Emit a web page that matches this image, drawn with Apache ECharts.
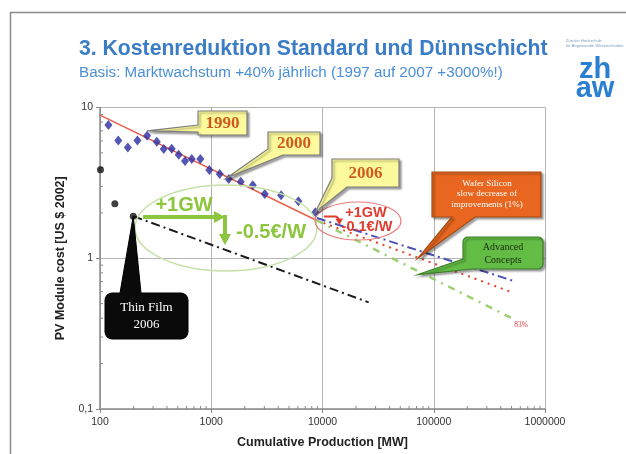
<!DOCTYPE html>
<html><head><meta charset="utf-8">
<script src="https://cdn.jsdelivr.net/npm/echarts@6/dist/echarts.min.js"></script>
<style>html,body{margin:0;padding:0;background:#fff}#c{width:626px;height:454px}</style>
</head><body><div id="c"></div>
<script>
// ---- data ----
const xTickValues = [100, 1000, 10000, 100000, 1000000];
const yTickValues = [0.1, 1, 10];
const yTickLabels = ['0,1', '1', '10'];

// historical module cost (blue diamonds)
const historyX = [119, 146, 178, 217, 265, 324, 374, 441, 510, 581, 668, 798, 961, 1192, 1437, 1842, 2362, 3028, 4244, 6072, 8632];
const historyY = [7.66, 6.04, 5.43, 6.04, 6.49, 5.92, 5.30, 5.32, 4.86, 4.41, 4.55, 4.55, 3.85, 3.62, 3.36, 3.22, 3.05, 2.67, 2.62, 2.39, 2.02];

// thin film points (black dots)
const thinFilmX = [101, 136, 199];
const thinFilmY = [3.87, 2.30, 1.90];

// experience curve and forecasts
const experienceX = [100, 8900];
const experienceY = [8.9, 1.78];
const waferDottedX = [8900, 510000];
const waferDottedY = [1.78, 0.593];
const waferSlowX = [8900, 520000];
const waferSlowY = [1.85, 0.708];
const advancedX = [8900, 518000];
const advancedY = [1.78, 0.396];
const thinTrendX = [200, 26000];
const thinTrendY = [1.9, 0.51];

// annotation anchors (data space)
const waferTipAt = [72000, 1.0];
const advancedTipAt = [72000, 0.78];

const zip = (xs, ys) => xs.map((x, i) => [x, ys[i]]);

// minor tick positions (axis decoration)
const minorMult = [2, 3, 4, 5, 6, 7, 8, 9];
const xMinor = [];
[100, 1000, 10000, 100000].forEach(d => minorMult.forEach(m => xMinor.push([d * m, 0.1])));
const yMinor = [];
[0.1, 1].forEach(d => minorMult.forEach(m => yMinor.push([100, d * m])));

const SANS = '"Liberation Sans", Arial, sans-serif';
const SERIF = '"Liberation Serif", "Times New Roman", serif';
const AX = '#8a8a8a';

const chart = echarts.init(document.getElementById('c'));

function lineSeries(xs, ys, color, width, dash) {
  return {
    type: 'line', data: zip(xs, ys), symbol: 'none', silent: true, z: 3,
    lineStyle: { color: color, width: width, type: dash || 'solid' }
  };
}

chart.setOption({
  animation: false,
  backgroundColor: '#ffffff',
  grid: { left: 100, top: 107.5, width: 445, height: 303.5 },
  xAxis: {
    type: 'log', logBase: 10, min: 100, max: 1000000,
    name: 'Cumulative Production [MW]', nameLocation: 'middle', nameGap: 27,
    nameTextStyle: { fontFamily: SANS, fontWeight: 'bold', fontSize: 12.5, color: '#222' },
    axisLine: { lineStyle: { color: AX, width: 1.5 } },
    axisTick: { show: true, length: 4, lineStyle: { color: AX } },
    axisLabel: { fontFamily: SANS, fontSize: 10.5, color: '#333', margin: 8,
      formatter: v => { const i = xTickValues.findIndex(t => Math.abs(t - v) / t < 1e-6); return i >= 0 ? String(xTickValues[i]) : ''; } },
    splitLine: { show: true, lineStyle: { color: '#b4b4b4', width: 1 } }
  },
  yAxis: {
    type: 'log', logBase: 10, min: 0.1, max: 10,
    name: 'PV Module cost [US $ 2002]', nameLocation: 'middle', nameGap: 30,
    nameTextStyle: { fontFamily: SANS, fontWeight: 'bold', fontSize: 12.5, color: '#222' },
    axisLine: { lineStyle: { color: AX, width: 1.5 } },
    axisTick: { show: true, length: 4, lineStyle: { color: AX } },
    axisLabel: { fontFamily: SANS, fontSize: 10.5, color: '#333', margin: 7,
      formatter: v => { const i = yTickValues.findIndex(t => Math.abs(t - v) / t < 1e-6); return i >= 0 ? yTickLabels[i] : ''; } },
    splitLine: { show: true, lineStyle: { color: '#b4b4b4', width: 1 } }
  },
  series: [
    { type: 'custom', data: xMinor, silent: true, z: 2,
      renderItem: (p, api) => { const c = api.coord([api.value(0), api.value(1)]);
        return { type: 'line', shape: { x1: c[0], y1: c[1], x2: c[0], y2: c[1] - 3 }, style: { stroke: AX, lineWidth: 1 } }; } },
    { type: 'custom', data: yMinor, silent: true, z: 2,
      renderItem: (p, api) => { const c = api.coord([api.value(0), api.value(1)]);
        return { type: 'line', shape: { x1: c[0], y1: c[1], x2: c[0] + 3, y2: c[1] }, style: { stroke: AX, lineWidth: 1 } }; } },
    lineSeries(experienceX, experienceY, '#e8604a', 1.5),
    lineSeries(waferDottedX, waferDottedY, '#e8402a', 2, [2, 5]),
    lineSeries(waferSlowX, waferSlowY, '#4b4fb5', 2, [9, 4, 2, 4]),
    lineSeries(advancedX, advancedY, '#9bd070', 2.5, [7, 6, 2, 6]),
    lineSeries(thinTrendX, thinTrendY, '#1a1a1a', 2, [9, 4, 2, 4]),
    { type: 'scatter', data: zip(historyX, historyY), symbol: 'diamond', symbolSize: [8, 10],
      itemStyle: { color: '#2b2ba0' }, z: 5 },
    { type: 'scatter', data: zip(thinFilmX, thinFilmY), symbol: 'circle', symbolSize: 7,
      itemStyle: { color: '#111' }, z: 5 }
  ]
});

// ---- annotations ----
const px = (x, y) => chart.convertToPixel({ gridIndex: 0 }, [x, y]);
function arc(cx, cy, r, a0, a1) {
  const pts = []; const n = r > 0 ? 4 : 0;
  for (let i = 0; i <= n; i++) { const a = (a0 + (a1 - a0) * i / Math.max(n, 1)) * Math.PI / 180; pts.push([cx + r * Math.cos(a), cy + r * Math.sin(a)]); }
  return pts;
}
function callout(x0, y0, x1, y1, r, mode, ptr) {
  const TL = arc(x0 + r, y0 + r, r, 180, 270), TR = arc(x1 - r, y0 + r, r, 270, 360),
        BR = arc(x1 - r, y1 - r, r, 0, 90), BL = arc(x0 + r, y1 - r, r, 90, 180);
  if (mode === 'top') return [...TL, ...ptr, ...TR, ...BR, ...BL];
  if (mode === 'bottom') return [...TL, ...TR, ...BR, ...ptr, ...BL];
  if (mode === 'left') return [...TL, ...TR, ...BR, ...BL, ...ptr];
  return [...TL, ...TR, ...BR, ...ptr]; // corner
}
const shadow = { shadowColor: 'rgba(0,0,0,0.35)', shadowBlur: 2, shadowOffsetX: 2, shadowOffsetY: 2 };
function txt(x, y, text, size, weight, family, fill, lh) {
  return { type: 'text', x: x, y: y, z: 120, silent: true,
    style: { text: text, fontSize: size, fontWeight: weight, fontFamily: family, fill: fill,
      align: 'center', verticalAlign: 'middle', lineHeight: lh || size * 1.2 } };
}

const t1990 = px(historyX[4], historyY[4]);
const t2000 = px(historyX[14], historyY[14]);
const t2006 = px(historyX[20], historyY[20]);
const tThin = px(thinFilmX[2], thinFilmY[2]);
const tWafer = px(waferTipAt[0], waferTipAt[1]);
const tAdv = px(advancedTipAt[0], advancedTipAt[1]);
const gEnd = px(advancedX[1], advancedY[1]);

const yellow = '#fcfa9c', ygray = '#7c7c7c', yearColor = '#d25a1c';
const G = '#8cc63f';

const graphics = [
  // slide frame
  { type: 'polyline', z: 90, silent: true, shape: { points: [[10.5, 454], [10.5, 12.5], [626, 12.5]] }, style: { stroke: '#8c8c8c', lineWidth: 1.5, fill: null } },
  // title & subtitle
  { type: 'text', x: 79, y: 49, z: 120, style: { text: '3. Kostenreduktion Standard und Dünnschicht', fontSize: 21.2, fontWeight: 'bold', fontFamily: SANS, fill: '#3a7cc6', align: 'left', verticalAlign: 'middle' } },
  { type: 'text', x: 79, y: 73, z: 120, style: { text: 'Basis: Marktwachstum +40% jährlich (1997 auf 2007 +3000%!)', fontSize: 15.2, fontFamily: SANS, fill: '#4a8fd6', align: 'left', verticalAlign: 'middle' } },
  // logo
  { type: 'text', x: 566, y: 41, z: 120, style: { text: 'Zürcher Hochschule', fontSize: 4, fontFamily: SANS, fill: '#7a9cc0', align: 'left', verticalAlign: 'middle' } },
  { type: 'text', x: 566, y: 45.5, z: 120, style: { text: 'für Angewandte Wissenschaften', fontSize: 4, fontFamily: SANS, fill: '#7a9cc0', align: 'left', verticalAlign: 'middle' } },
  txt(595, 70, 'zh', 29, 'bold', SANS, '#2b7fd0'),
  txt(595, 89, 'aw', 29, 'bold', SANS, '#2b7fd0'),

  // green ellipse with arrows
  { type: 'ellipse', z: 100, silent: true, shape: { cx: 226, cy: 228, rx: 91, ry: 43 }, style: { stroke: '#c4e2a8', lineWidth: 1.5, fill: null } },
  txt(184, 205, '+1GW', 20, 'bold', SANS, G),
  txt(271, 232, '-0.5€/W', 20, 'bold', SANS, G),
  { type: 'line', z: 110, silent: true, shape: { x1: 143, y1: 217, x2: 216, y2: 217 }, style: { stroke: G, lineWidth: 4 } },
  { type: 'polygon', z: 110, silent: true, shape: { points: [[214, 211], [225, 217], [214, 223]] }, style: { fill: G } },
  { type: 'line', z: 110, silent: true, shape: { x1: 225, y1: 215, x2: 225, y2: 236 }, style: { stroke: G, lineWidth: 4 } },
  { type: 'polygon', z: 110, silent: true, shape: { points: [[219, 234], [225, 245], [231, 234]] }, style: { fill: G } },

  // red ellipse
  { type: 'ellipse', z: 100, silent: true, shape: { cx: 358, cy: 221, rx: 43, ry: 19 }, style: { stroke: '#e77a7a', lineWidth: 1.2, fill: null } },
  txt(366, 213, '+1GW', 14.5, 'bold', SANS, '#e23a2e'),
  txt(367, 227, '-0.1€/W', 14.5, 'bold', SANS, '#e23a2e'),
  { type: 'polyline', z: 110, silent: true, shape: { points: [[324, 216.5], [336, 216.5], [339, 219]] }, style: { stroke: '#e23a2e', lineWidth: 2.2, fill: null } },
  { type: 'polygon', z: 110, silent: true, shape: { points: [[335.5, 219], [339.5, 225], [343, 218.5]] }, style: { fill: '#e23a2e' } },

  // 1990
  { type: 'polygon', z: 105, silent: true, shape: { points: callout(198, 111, 247, 135, 0, 'left', [[198, 132], [t1990[0], t1990[1] - 5], [198, 125]]) }, style: Object.assign({ fill: yellow, stroke: ygray, lineWidth: 1.2 }, shadow) },
  txt(222.5, 123.5, '1990', 17, 'bold', SERIF, yearColor),
  // 2000
  { type: 'polygon', z: 105, silent: true, shape: { points: callout(268, 132, 320, 155, 0, 'corner', [[283, 155], [t2000[0] - 2, t2000[1] - 1], [268, 149]]) }, style: Object.assign({ fill: yellow, stroke: ygray, lineWidth: 1.2 }, shadow) },
  txt(294, 144, '2000', 17, 'bold', SERIF, yearColor),
  // 2006
  { type: 'polygon', z: 105, silent: true, shape: { points: callout(332, 159, 399, 187, 0, 'corner', [[347, 187], [t2006[0], t2006[1]], [332, 178]]) }, style: Object.assign({ fill: yellow, stroke: ygray, lineWidth: 1.2 }, shadow) },
  txt(365.5, 173.5, '2006', 17, 'bold', SERIF, yearColor),

  // Wafer silicon
  { type: 'polygon', z: 105, silent: true, shape: { points: callout(432, 172, 541, 217, 0, 'bottom', [[475, 217], [tWafer[0], tWafer[1]], [452, 217]]) }, style: Object.assign({ fill: '#e8661f', stroke: '#a34a14', lineWidth: 1.2 }, shadow) },
  txt(487, 194, 'Wafer Silicon\nslow decrease of\nimprovements (1%)', 9, 'normal', SERIF, '#ffffff', 10.8),

  // Advanced concepts
  { type: 'polygon', z: 105, silent: true, shape: { points: callout(463, 237, 543, 269, 5, 'corner', [[472, 269], [tAdv[0], tAdv[1]], [463, 259]]) }, style: Object.assign({ fill: '#63bd45', stroke: '#3d7f2a', lineWidth: 1.2 }, shadow) },
  txt(503, 254, 'Advanced\nConcepts', 10, 'normal', SERIF, '#1a2a10', 12.5),

  // Thin film
  { type: 'polygon', z: 105, silent: true, shape: { points: callout(105, 293, 188, 339, 7, 'top', [[120, 293], [tThin[0], tThin[1]], [141, 293]]) }, style: { fill: '#0a0a0a', stroke: '#000', lineWidth: 1 } },
  txt(146.5, 316, 'Thin Film\n2006', 13, 'normal', SERIF, '#ffffff', 17),

  // 83%
  { type: 'text', x: gEnd[0] + 1, y: gEnd[1] + 6, z: 120, style: { text: '83%', fontSize: 7.5, fontFamily: SERIF, fill: '#e04040', align: 'left', verticalAlign: 'middle' } }
];
chart.setOption({ graphic: graphics });
</script>
</body></html>
